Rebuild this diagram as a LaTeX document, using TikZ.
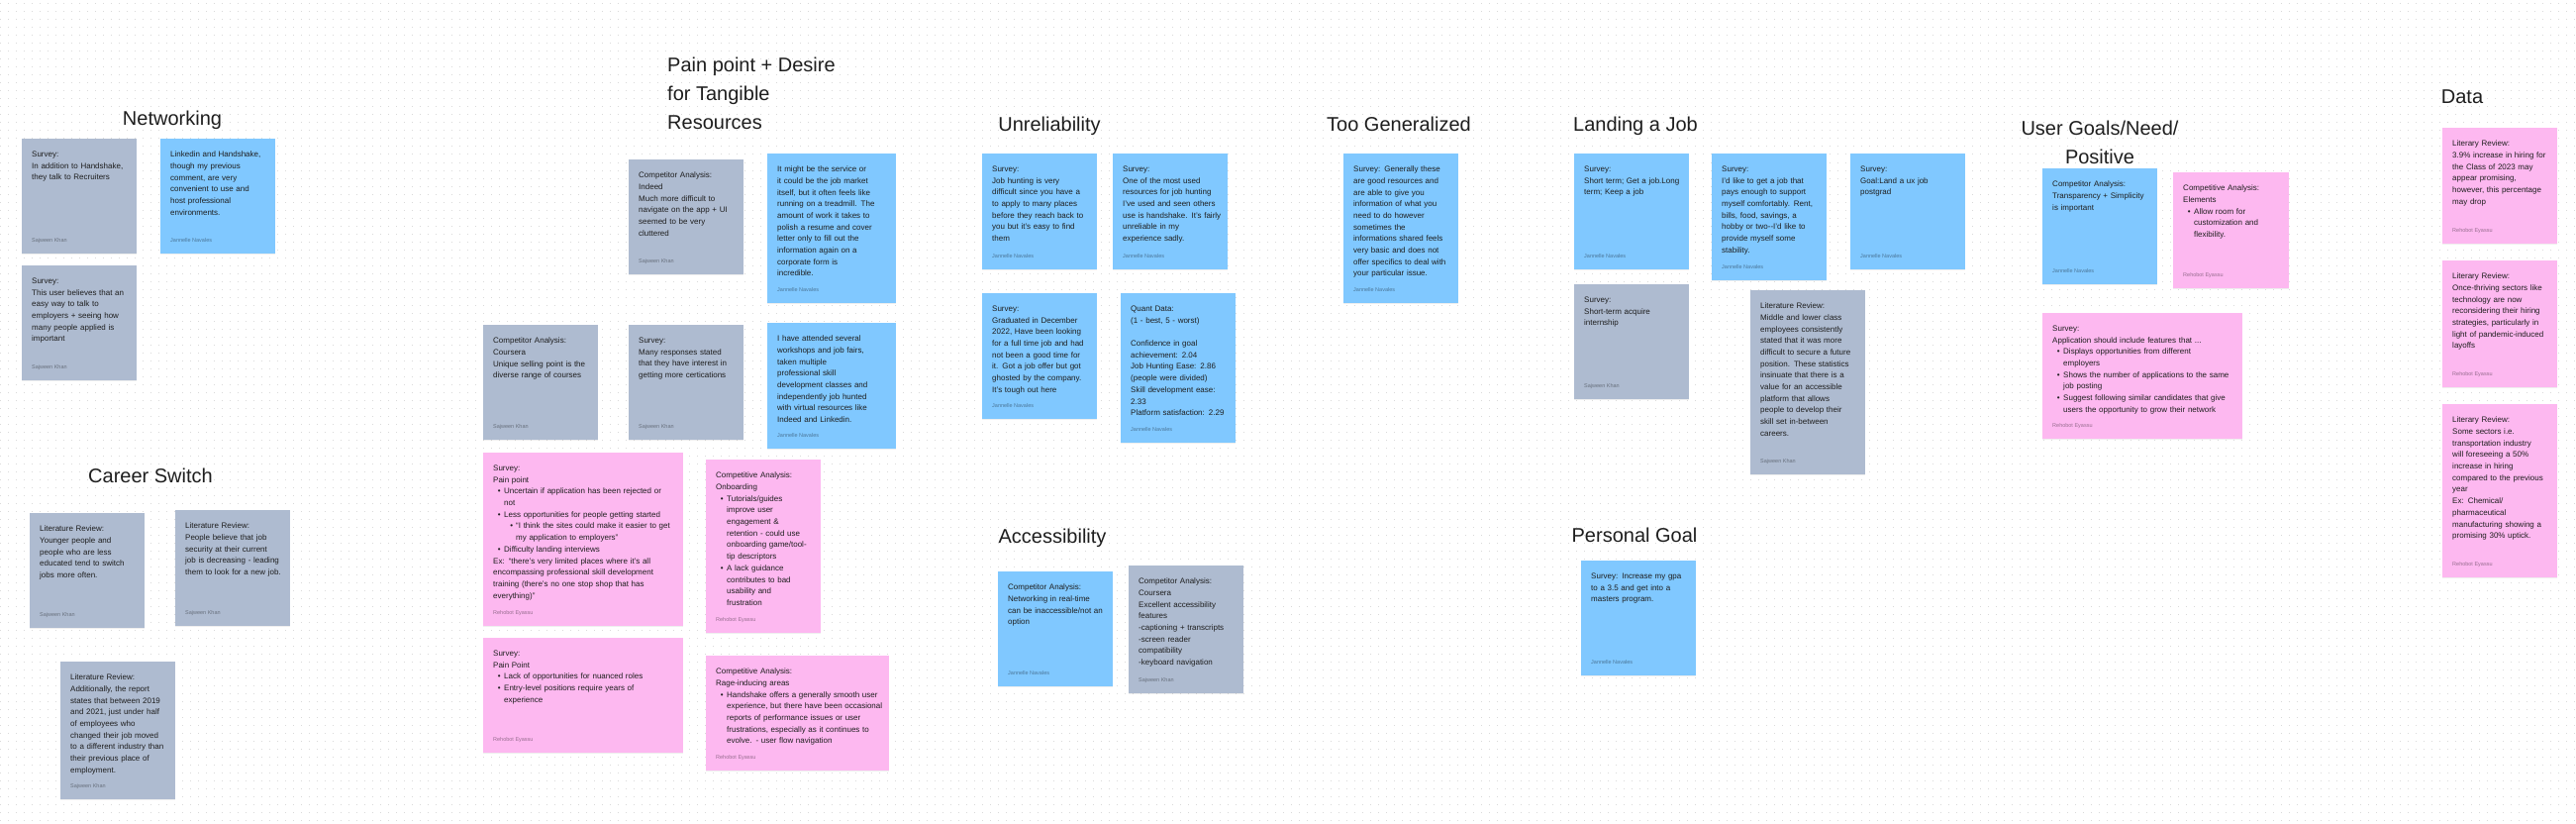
\documentclass[tikz,border=0pt]{standalone}
\usepackage{fontspec}
\setmainfont{Liberation Sans}
\usetikzlibrary{shadows}
\setlength{\parindent}{0pt}
\setlength{\parskip}{0pt}
\definecolor{slate}{RGB}{174,187,208}
\definecolor{sky}{RGB}{128,200,255}
\definecolor{rose}{RGB}{253,184,240}
\definecolor{ink}{RGB}{30,30,30}
\definecolor{dotgray}{RGB}{218,218,218}
\newcommand{\bul}[1]{\par{\leftskip=11pt\noindent\llap{\textbullet\hspace{3.5pt}}#1\par}}
\newcommand{\subbul}[1]{\par{\leftskip=23pt\noindent\llap{\textbullet\hspace{3pt}}#1\par}}
\begin{document}
\begin{tikzpicture}[x=1pt,y=-1pt,
	gridrow/.style={draw=dotgray,line width=1pt,dash pattern=on 1pt off 7pt},
	heading/.style={font=\fontsize{20}{29}\selectfont,text=ink,inner sep=0pt,anchor=base},
	note/.style={anchor=north west,inner sep=0pt,minimum width=116pt,minimum height=116pt,drop shadow={shadow xshift=0pt,shadow yshift=-1.2pt,opacity=0.12}},
	graynote/.style={note,fill=slate},
	bluenote/.style={note,fill=sky},
	pinknote/.style={note,fill=rose},
	txt/.style={anchor=north west,xshift=10pt,yshift=-12.7pt,inner sep=0pt,text width=200pt,align=left,text=ink,font=\fontsize{8}{11.7}\selectfont},
	who/.style={anchor=base west,xshift=10pt,yshift=11.5pt,inner sep=0pt,text=black,text opacity=0.4,font=\fontsize{5.5}{7}\selectfont}]
	\fill[white] (0,0) rectangle (2602,832);
	\useasboundingbox (0,0) rectangle (2602,832);
	\foreach \r in {4,12,...,828}
		\draw[gridrow] (0,\r) -- (2602,\r);

	% Networking
	\node[heading] (nettitle) at (174,127) {Networking};
	\node[graynote] (net1) at (22,140) {};
	\node[txt] at (net1.north west) {Survey:\\In addition to Handshake,\\they talk to Recruiters};
	\node[who] at (net1.south west) {Sajween Khan};
	\node[bluenote] (net2) at (162,140) {};
	\node[txt] at (net2.north west) {Linkedin and Handshake,\\though my previous\\comment, are very\\convenient to use and\\host professional\\environments.};
	\node[who] at (net2.south west) {Jannelle Navales};
	\node[graynote] (net3) at (22,268) {};
	\node[txt] at (net3.north west) {Survey:\\This user believes that an\\easy way to talk to\\employers + seeing how\\many people applied is\\important};
	\node[who] at (net3.south west) {Sajween Khan};

	% Career Switch
	\node[heading] (cartitle) at (152,487) {Career Switch};
	\node[graynote] (car1) at (30,518) {};
	\node[txt] at (car1.north west) {Literature Review:\\Younger people and\\people who are less\\educated tend to switch\\jobs more often.};
	\node[who] at (car1.south west) {Sajween Khan};
	\node[graynote,minimum height=117pt] (car2) at (177,515) {};
	\node[txt] at (car2.north west) {Literature Review:\\People believe that job\\security at their current\\job is decreasing - leading\\them to look for a new job.};
	\node[who] at (car2.south west) {Sajween Khan};
	\node[graynote,minimum height=139pt] (car3) at (61,668) {};
	\node[txt] at (car3.north west) {Literature Review:\\Additionally, the report\\states that between 2019\\and 2021, just under half\\of employees who\\changed their job moved\\to a different industry than\\their previous place of\\employment.};
	\node[who] at (car3.south west) {Sajween Khan};

	% Pain point + Desire
	\node[heading,anchor=north west,align=left] (paintitle) at (674,58) {Pain point + Desire\\for Tangible\\Resources};
	\node[graynote] (pain1) at (635,161) {};
	\node[txt] at (pain1.north west) {Competitor Analysis:\\Indeed\\Much more difficult to\\navigate on the app + UI\\seemed to be very\\cluttered};
	\node[who] at (pain1.south west) {Sajween Khan};
	\node[bluenote,minimum width=130pt,minimum height=151pt] (pain2) at (775,155) {};
	\node[txt] at (pain2.north west) {It might be the service or\\it could be the job market\\itself, but it often feels like\\running on a treadmill. The\\amount of work it takes to\\polish a resume and cover\\letter only to fill out the\\information again on a\\corporate form is\\incredible.};
	\node[who] at (pain2.south west) {Jannelle Navales};
	\node[bluenote,minimum width=130pt,minimum height=127pt] (pain3) at (775,326) {};
	\node[txt] at (pain3.north west) {I have attended several\\workshops and job fairs,\\taken multiple\\professional skill\\development classes and\\independently job hunted\\with virtual resources like\\Indeed and Linkedin.};
	\node[who] at (pain3.south west) {Jannelle Navales};
	\node[graynote] (pain4) at (488,328) {};
	\node[txt] at (pain4.north west) {Competitor Analysis:\\Coursera\\Unique selling point is the\\diverse range of courses};
	\node[who] at (pain4.south west) {Sajween Khan};
	\node[graynote] (pain5) at (635,328) {};
	\node[txt] at (pain5.north west) {Survey:\\Many responses stated\\that they have interest in\\getting more certications};
	\node[who] at (pain5.south west) {Sajween Khan};
	\node[pinknote,minimum width=202pt,minimum height=175pt] (pain6) at (488,457) {};
	\node[txt] at (pain6.north west) {Survey:\\Pain point
		\bul{Uncertain if application has been rejected or\\not}
		\bul{Less opportunities for people getting started}
		\subbul{“I think the sites could make it easier to get\\my application to employers”}
		\bul{Difficulty landing interviews}
		Ex: “there’s very limited places where it’s all\\encompassing professional skill development\\training (there’s no one stop shop that has\\everything)”};
	\node[who] at (pain6.south west) {Rehobot Eyassu};
	\node[pinknote,minimum height=175pt] (pain7) at (713,464) {};
	\node[txt] at (pain7.north west) {Competitive Analysis:\\Onboarding
		\bul{Tutorials/guides\\improve user\\engagement \&\\retention - could use\\onboarding game/tool-\\tip descriptors}
		\bul{A lack guidance\\contributes to bad\\usability and\\frustration}};
	\node[who] at (pain7.south west) {Rehobot Eyassu};
	\node[pinknote,minimum width=202pt] (pain8) at (488,644) {};
	\node[txt] at (pain8.north west) {Survey:\\Pain Point
		\bul{Lack of opportunities for nuanced roles}
		\bul{Entry-level positions require years of\\experience}};
	\node[who] at (pain8.south west) {Rehobot Eyassu};
	\node[pinknote,minimum width=185pt] (pain9) at (713,662) {};
	\node[txt] at (pain9.north west) {Competitive Analysis:\\Rage-inducing areas
		\bul{Handshake offers a generally smooth user\\experience, but there have been occasional\\reports of performance issues or user\\frustrations, especially as it continues to\\evolve. - user flow navigation}};
	\node[who] at (pain9.south west) {Rehobot Eyassu};

	% Unreliability
	\node[heading] (unrtitle) at (1060,132) {Unreliability};
	\node[bluenote,minimum height=117pt] (unr1) at (992,155) {};
	\node[txt] at (unr1.north west) {Survey:\\Job hunting is very\\difficult since you have a\\to apply to many places\\before they reach back to\\you but it’s easy to find\\them};
	\node[who] at (unr1.south west) {Jannelle Navales};
	\node[bluenote,minimum height=117pt] (unr2) at (1124,155) {};
	\node[txt] at (unr2.north west) {Survey:\\One of the most used\\resources for job hunting\\I’ve used and seen others\\use is handshake. It’s fairly\\unreliable in my\\experience sadly.};
	\node[who] at (unr2.south west) {Jannelle Navales};
	\node[bluenote,minimum height=127pt] (unr3) at (992,296) {};
	\node[txt] at (unr3.north west) {Survey:\\Graduated in December\\2022, Have been looking\\for a full time job and had\\not been a good time for\\it. Got a job offer but got\\ghosted by the company.\\It’s tough out here};
	\node[who] at (unr3.south west) {Jannelle Navales};
	\node[bluenote,minimum height=151pt] (unr4) at (1132,296) {};
	\node[txt] at (unr4.north west) {Quant Data:\\(1 - best, 5 - worst)\\[11.7pt]Confidence in goal\\achievement: 2.04\\Job Hunting Ease: 2.86\\(people were divided)\\Skill development ease:\\2.33\\Platform satisfaction: 2.29};
	\node[who] at (unr4.south west) {Jannelle Navales};

	% Too Generalized
	\node[heading] (gentitle) at (1413,132) {Too Generalized};
	\node[bluenote,minimum height=151pt] (gen1) at (1357,155) {};
	\node[txt] at (gen1.north west) {Survey: Generally these\\are good resources and\\are able to give you\\information of what you\\need to do however\\sometimes the\\informations shared feels\\very basic and does not\\offer specifics to deal with\\your particular issue.};
	\node[who] at (gen1.south west) {Jannelle Navales};

	% Accessibility
	\node[heading] (acctitle) at (1063,548) {Accessibility};
	\node[bluenote] (acc1) at (1008,577) {};
	\node[txt] at (acc1.north west) {Competitor Analysis:\\Networking in real-time\\can be inaccessible/not an\\option};
	\node[who] at (acc1.south west) {Jannelle Navales};
	\node[graynote,minimum height=129pt] (acc2) at (1140,571) {};
	\node[txt] at (acc2.north west) {Competitor Analysis:\\Coursera\\Excellent accessibility\\features\\-captioning + transcripts\\-screen reader\\compatibility\\-keyboard navigation};
	\node[who] at (acc2.south west) {Sajween Khan};

	% Landing a Job
	\node[heading] (landtitle) at (1652,132) {Landing a Job};
	\node[bluenote,minimum height=117pt] (land1) at (1590,155) {};
	\node[txt] at (land1.north west) {Survey:\\Short term; Get a job.Long\\term; Keep a job};
	\node[who] at (land1.south west) {Jannelle Navales};
	\node[bluenote,minimum height=128pt] (land2) at (1729,155) {};
	\node[txt] at (land2.north west) {Survey:\\I’d like to get a job that\\pays enough to support\\myself comfortably. Rent,\\bills, food, savings, a\\hobby or two-{}-I’d like to\\provide myself some\\stability.};
	\node[who] at (land2.south west) {Jannelle Navales};
	\node[bluenote,minimum height=117pt] (land3) at (1869,155) {};
	\node[txt] at (land3.north west) {Survey:\\Goal:Land a ux job\\postgrad};
	\node[who] at (land3.south west) {Jannelle Navales};
	\node[graynote] (land4) at (1590,287) {};
	\node[txt] at (land4.north west) {Survey:\\Short-term acquire\\internship};
	\node[who] at (land4.south west) {Sajween Khan};
	\node[graynote,minimum height=186pt] (land5) at (1768,293) {};
	\node[txt] at (land5.north west) {Literature Review:\\Middle and lower class\\employees consistently\\stated that it was more\\difficult to secure a future\\position. These statistics\\insinuate that there is a\\value for an accessible\\platform that allows\\people to develop their\\skill set in-between\\careers.};
	\node[who] at (land5.south west) {Sajween Khan};

	% Personal Goal
	\node[heading] (goaltitle) at (1651,547) {Personal Goal};
	\node[bluenote] (goal1) at (1597,566) {};
	\node[txt] at (goal1.north west) {Survey: Increase my gpa\\to a 3.5 and get into a\\masters program.};
	\node[who] at (goal1.south west) {Jannelle Navales};

	% User Goals/Need/Positive
	\node[heading,anchor=north,align=center] (usertitle) at (2121,122) {User Goals/Need/\\Positive};
	\node[bluenote,minimum height=117pt] (user1) at (2063,170) {};
	\node[txt] at (user1.north west) {Competitor Analysis:\\Transparency + Simplicity\\is important};
	\node[who] at (user1.south west) {Jannelle Navales};
	\node[pinknote,minimum width=117pt,minimum height=117pt] (user2) at (2195,174) {};
	\node[txt] at (user2.north west) {Competitive Analysis:\\Elements
		\bul{Allow room for\\customization and\\flexibility.}};
	\node[who] at (user2.south west) {Rehobot Eyassu};
	\node[pinknote,minimum width=202pt,minimum height=127pt] (user3) at (2063,316) {};
	\node[txt] at (user3.north west) {Survey:\\Application should include features that ...
		\bul{Displays opportunities from different\\employers}
		\bul{Shows the number of applications to the same\\job posting}
		\bul{Suggest following similar candidates that give\\users the opportunity to grow their network}};
	\node[who] at (user3.south west) {Rehobot Eyassu};

	% Data
	\node[heading] (datatitle) at (2487,105) {Data};
	\node[pinknote,minimum height=117pt] (data1) at (2467,129) {};
	\node[txt] at (data1.north west) {Literary Review:\\3.9\% increase in hiring for\\the Class of 2023 may\\appear promising,\\however, this percentage\\may drop};
	\node[who] at (data1.south west) {Rehobot Eyassu};
	\node[pinknote,minimum height=128pt] (data2) at (2467,263) {};
	\node[txt] at (data2.north west) {Literary Review:\\Once-thriving sectors like\\technology are now\\reconsidering their hiring\\strategies, particularly in\\light of pandemic-induced\\layoffs};
	\node[who] at (data2.south west) {Rehobot Eyassu};
	\node[pinknote,minimum height=175pt] (data3) at (2467,408) {};
	\node[txt] at (data3.north west) {Literary Review:\\Some sectors i.e.\\transportation industry\\will foreseeing a 50\%\\increase in hiring\\compared to the previous\\year\\Ex: Chemical/\\pharmaceutical\\manufacturing showing a\\promising 30\% uptick.};
	\node[who] at (data3.south west) {Rehobot Eyassu};
\end{tikzpicture}
\end{document}
